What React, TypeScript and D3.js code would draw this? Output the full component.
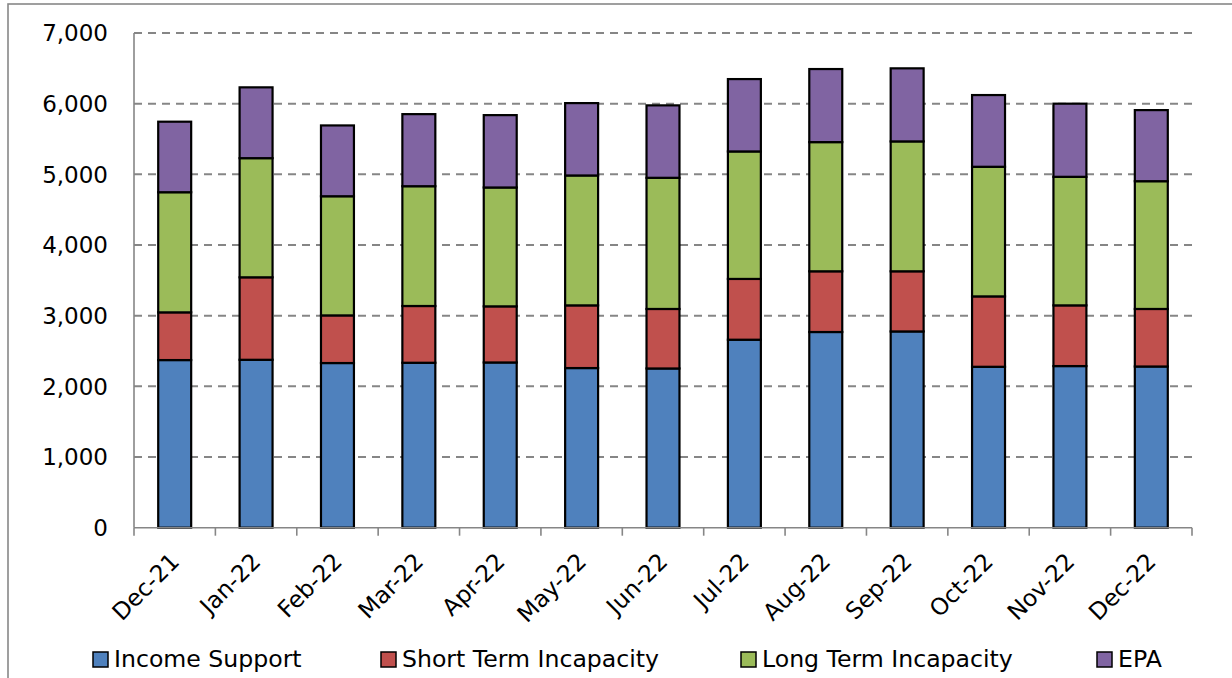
import React from "react";
import * as d3 from "d3";

const categories = ["Dec-21","Jan-22","Feb-22","Mar-22","Apr-22","May-22","Jun-22","Jul-22","Aug-22","Sep-22","Oct-22","Nov-22","Dec-22"];
const incomeSupport = [2372,2376,2330,2334,2338,2259,2253,2660,2769,2777,2277,2287,2281];
const shortTermIncapacity = [675,1167,674,803,794,887,842,860,859,851,996,859,814];
const longTermIncapacity = [1700,1686,1686,1695,1682,1838,1856,1804,1828,1838,1834,1819,1808];
const epa = [998,1002,1002,1020,1024,1024,1025,1024,1034,1034,1015,1035,1006];
const seriesNames = ["Income Support","Short Term Incapacity","Long Term Incapacity","EPA"];
const seriesColors = ["#4F81BD","#C0504D","#9BBB59","#8064A2"];
const yTicks = [0,1000,2000,3000,4000,5000,6000,7000];
const legendX = [93,381,741,1097];

const W = 1232, H = 678;
const FONT = "'DejaVu Sans', Verdana, sans-serif";

export default function App() {
  const x = d3.scaleBand<string>().domain(categories).range([134, 1192]).paddingInner(0.595).paddingOuter(0.2975);
  const y = d3.scaleLinear().domain([0, 7000]).range([527.7, 33]);
  const rows = categories.map((c, i) => ({
    cat: c, s0: incomeSupport[i], s1: shortTermIncapacity[i], s2: longTermIncapacity[i], s3: epa[i],
  }));
  const stacked = d3.stack<any>().keys(["s0","s1","s2","s3"])(rows);
  const step = x.step();
  const fmt = d3.format(",");
  return (
    <svg width={W} height={H} style={{ position: "absolute", left: 0, top: 0, display: "block", background: "#fff" }} fontFamily={FONT}>
      <rect x={8} y={4} width={W + 20} height={H + 20} fill="#fff" stroke="#888" strokeWidth={1.6} />
      {yTicks.filter(t => t > 0).map(t => (
        <line key={t} x1={134} x2={1192} y1={y(t)} y2={y(t)} stroke="#868686" strokeWidth={2} strokeDasharray="8,6" />
      ))}
      {stacked.map((layer, si) => (
        <g key={si}>
          {layer.map((d, i) => (
            <rect key={i} x={x(categories[i])!} width={x.bandwidth()} y={y(d[1])} height={y(d[0]) - y(d[1])}
              fill={seriesColors[si]} stroke="#000" strokeWidth={2.2} />
          ))}
        </g>
      ))}
      <line x1={134} x2={134} y1={y(7000)} y2={y(0)} stroke="#868686" strokeWidth={1.6} />
      <line x1={134} x2={1192} y1={y(0)} y2={y(0)} stroke="#868686" strokeWidth={1.6} />
      {d3.range(categories.length + 1).map(i => (
        <line key={i} x1={134 + i * step} x2={134 + i * step} y1={y(0)} y2={y(0) + 8} stroke="#868686" strokeWidth={1.6} />
      ))}
      {yTicks.map(t => (
        <text key={t} x={108} y={y(t)} dy="0.36em" textAnchor="end" fontSize={23} fill="#000">{fmt(t)}</text>
      ))}
      {categories.map(c => (
        <text key={c} transform={`translate(${x(c)! + x.bandwidth() / 2 + 6},${563}) rotate(-45)`} textAnchor="end" fontSize={23.3} fill="#000">{c}</text>
      ))}
      {seriesNames.map((n, i) => (
        <g key={n}>
          <rect x={legendX[i]} y={652} width={15} height={15} fill={seriesColors[i]} stroke="#000" strokeWidth={1.5} />
          <text x={legendX[i] + 21} y={667} fontSize={23.6} fill="#000">{n}</text>
        </g>
      ))}
    </svg>
  );
}
